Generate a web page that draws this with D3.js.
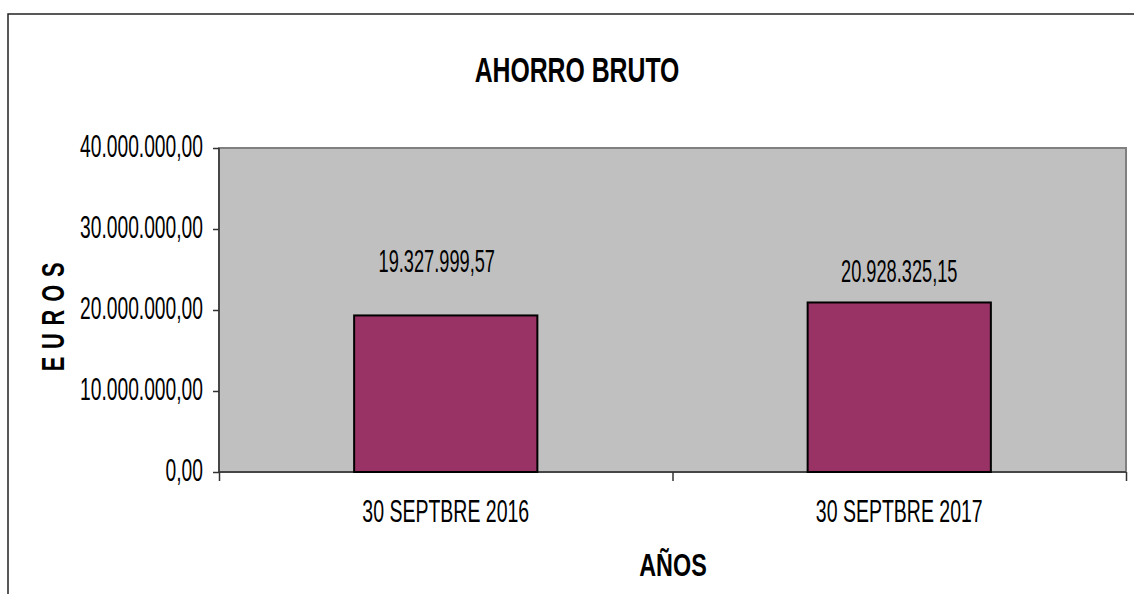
<!DOCTYPE html>
<html>
<head>
<meta charset="utf-8">
<script src="https://cdn.jsdelivr.net/npm/d3@7"></script>
<style>
  html, body { margin: 0; padding: 0; background: #fff; }
  svg text { font-family: "Liberation Sans", Arial, sans-serif; fill: #000; }
</style>
</head>
<body>
<svg id="chart" width="1134" height="594"></svg>
<script>
// data
var categories = ['30 SEPTBRE 2016', '30 SEPTBRE 2017'];
var values = [19327999.57, 20928325.15];
var valueLabels = ['19.327.999,57', '20.928.325,15'];
var yTicks = [0, 10000000, 20000000, 30000000, 40000000];
var yTickLabels = ['0,00', '10.000.000,00', '20.000.000,00', '30.000.000,00', '40.000.000,00'];

var svg = d3.select('#chart'),
    plot = {left: 219, top: 148, right: 1126, bottom: 472},
    y,
    x,
    xEdge,
    g;

// the original was a stretched narrow face, so scale both ways
function label(parent, str, px, py, size, sx, sy, anchor, weight) {
    return parent.append('text')
        .attr('transform', 'translate(' + px + ',' + py + ') scale(' + sx + ',' + sy + ')')
        .attr('text-anchor', anchor || 'middle')
        .attr('font-size', size)
        .attr('font-weight', weight || 'normal')
        .text(str);
}

// outer frame
svg.append('rect')
    .attr('x', 8).attr('y', 14)
    .attr('width', 1140).attr('height', 600)
    .attr('fill', 'none')
    .attr('stroke', '#222')
    .attr('stroke-width', 1.5);

y = d3.scaleLinear().domain([0, 40000000]).range([plot.bottom, plot.top]);
x = d3.scaleBand().domain(categories).range([plot.left, plot.right])
    .paddingInner(0.596).paddingOuter(0.298);
xEdge = d3.scaleLinear().domain([0, categories.length]).range([plot.left, plot.right]);

// plot background
svg.append('rect')
    .attr('x', plot.left).attr('y', plot.top)
    .attr('width', plot.right - plot.left).attr('height', plot.bottom - plot.top)
    .attr('fill', '#c0c0c0')
    .attr('stroke', '#808080')
    .attr('stroke-width', 2);

// y axis
g = svg.append('g').attr('transform', 'translate(' + plot.left + ',0)')
    .call(d3.axisLeft(y).tickValues(yTicks).tickSize(6).tickFormat(''));
g.selectAll('path, line').attr('stroke', '#333').attr('stroke-width', 1.5);
g.select('.domain').attr('d', 'M0,' + plot.top + 'V' + plot.bottom);

yTicks.forEach(function (t, i) {
    label(svg, yTickLabels[i], 203, y(t) + 9, 26, 0.74, 1.18, 'end');
});

// x axis
g = svg.append('g').attr('transform', 'translate(0,' + plot.bottom + ')')
    .call(d3.axisBottom(xEdge).ticks(categories.length).tickSize(9).tickFormat(''));
g.selectAll('path, line').attr('stroke', '#333').attr('stroke-width', 1.5);
g.select('.domain').attr('d', 'M' + plot.left + ',0H' + plot.right);

categories.forEach(function (c) {
    label(svg, c, x(c) + x.bandwidth() / 2, 522, 26, 0.75, 1.18);
});

// bars
svg.selectAll('rect.bar')
    .data(values)
    .enter().append('rect')
    .attr('class', 'bar')
    .attr('x', function (d, i) { return x(categories[i]); })
    .attr('y', function (d) { return y(d); })
    .attr('width', x.bandwidth())
    .attr('height', function (d) { return plot.bottom - y(d); })
    .attr('fill', '#993366')
    .attr('stroke', '#000')
    .attr('stroke-width', 2);

// data labels (first one was nudged up/left in the original)
var labelDx = [-9, 0],
    labelDy = [-43, -20];
values.forEach(function (v, i) {
    label(svg, valueLabels[i], x(categories[i]) + x.bandwidth() / 2 + labelDx[i],
        y(v) + labelDy[i], 26, 0.7, 1.18);
});

// titles
label(svg, 'AHORRO BRUTO', 577, 82, 31, 0.8, 1.12, 'middle', 'bold');
label(svg, 'AÑOS', 673, 576, 27.5, 0.85, 1.12, 'middle', 'bold');

svg.append('text')
    .attr('transform', 'translate(64,313) rotate(-90) scale(0.78,1.1)')
    .attr('text-anchor', 'middle')
    .attr('font-size', 28)
    .attr('font-weight', 'bold')
    .attr('letter-spacing', 10)
    .text('EUROS');
</script>
</body>
</html>
